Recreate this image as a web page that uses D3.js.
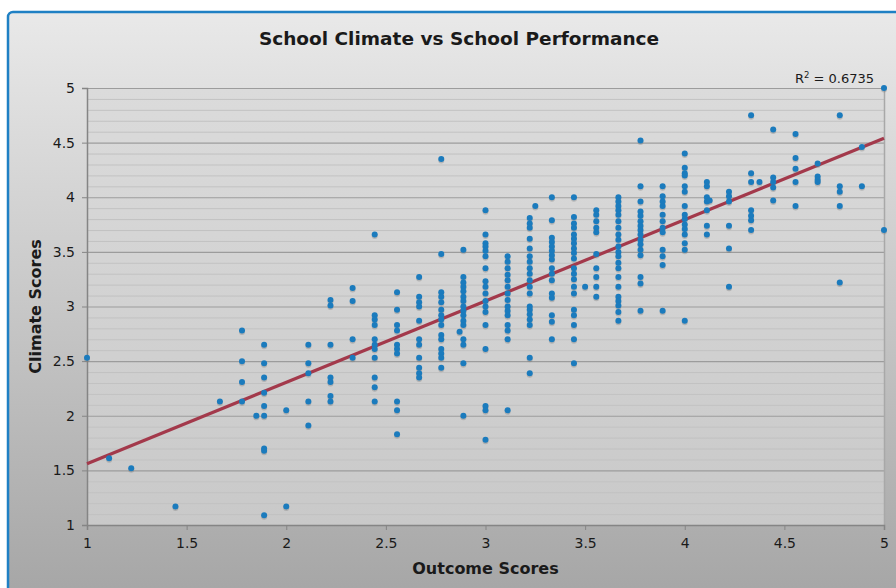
<!DOCTYPE html>
<html>
<head>
<meta charset="utf-8">
<script src="https://cdn.jsdelivr.net/npm/d3@7/dist/d3.min.js"></script>
<style>
  body { margin: 0; background: #fff; }
  svg text { font-family: "DejaVu Sans", Verdana, sans-serif; fill: #1a1a1a; }
</style>
</head>
<body>
<div id="chart"></div>
<script>
// outcome score levels (x) and the climate scores (y) read in each column
var outcomeScores = [1, 1.111, 1.222, 1.444, 1.667, 1.778, 1.889, 2, 2.111, 2.222, 2.333, 2.444,
  2.556, 2.667, 2.778, 2.889, 3, 3.111, 3.222, 3.333, 3.444, 3.556, 3.667, 3.778,
  3.889, 4, 4.111, 4.222, 4.333, 4.444, 4.556, 4.667, 4.778, 4.889, 5];
var climateScores = [
  [2.53],
  [1.61],
  [1.52],
  [1.17],
  [2.13],
  [2.78, 2.50, 2.31, 2.13],
  [2.65, 2.48, 2.35, 2.21, 2.09, 2.0, 1.70, 1.68, 1.09],
  [2.05, 1.17],
  [2.65, 2.48, 2.39, 2.13, 1.91],
  [3.06, 3.01, 2.65, 2.35, 2.31, 2.18, 2.13],
  [3.17, 3.05, 2.70, 2.53],
  [3.66, 2.92, 2.88, 2.83, 2.70, 2.65, 2.61, 2.53, 2.35, 2.26, 2.13],
  [3.13, 2.97, 2.83, 2.78, 2.65, 2.61, 2.57, 2.13, 2.05, 1.83],
  [3.27, 3.09, 3.04, 3.0, 2.87, 2.70, 2.65, 2.53, 2.44, 2.39, 2.35],
  [4.35, 3.48, 3.13, 3.09, 3.04, 2.97, 2.92, 2.88, 2.83, 2.74, 2.70, 2.61, 2.57, 2.53, 2.44],
  [3.52, 3.27, 3.22, 3.18, 3.14, 3.09, 3.05, 3.0, 2.96, 2.92, 2.87, 2.83, 2.70, 2.65, 2.48, 2.0],
  [3.88, 3.66, 3.58, 3.55, 3.51, 3.46, 3.35, 3.23, 3.18, 3.12, 3.05, 3.0, 2.95, 2.83, 2.61, 2.09, 2.05, 1.78],
  [3.46, 3.41, 3.35, 3.29, 3.24, 3.18, 3.12, 3.06, 3.0, 2.96, 2.92, 2.83, 2.78, 2.70, 2.05],
  [3.81, 3.76, 3.72, 3.62, 3.53, 3.46, 3.41, 3.35, 3.30, 3.24, 3.18, 3.12, 3.0, 2.97, 2.93, 2.88, 2.83, 2.53, 2.39],
  [4.0, 3.79, 3.63, 3.59, 3.55, 3.51, 3.47, 3.43, 3.35, 3.30, 3.24, 3.12, 3.08, 2.92, 2.86, 2.70],
  [4.0, 3.82, 3.76, 3.72, 3.66, 3.62, 3.58, 3.53, 3.49, 3.44, 3.35, 3.30, 3.25, 3.18, 3.12, 2.97, 2.92, 2.83, 2.70, 2.48],
  [3.88, 3.84, 3.78, 3.72, 3.68, 3.48, 3.35, 3.27, 3.18, 3.09],
  [4.0, 3.96, 3.92, 3.88, 3.84, 3.78, 3.72, 3.66, 3.61, 3.55, 3.50, 3.46, 3.40, 3.35, 3.27, 3.18, 3.09, 3.05, 3.01, 2.95, 2.87],
  [4.52, 4.10, 3.96, 3.87, 3.83, 3.78, 3.74, 3.70, 3.66, 3.61, 3.57, 3.52, 3.47, 3.27, 3.21, 2.96],
  [4.10, 4.01, 3.96, 3.92, 3.84, 3.78, 3.72, 3.68, 3.52, 3.46, 3.38, 2.96],
  [4.40, 4.27, 4.22, 4.20, 4.10, 4.05, 3.92, 3.84, 3.80, 3.75, 3.71, 3.66, 3.58, 3.52, 2.87],
  [4.14, 4.10, 4.0, 3.96, 3.88, 3.74, 3.66],
  [4.05, 4.01, 3.96, 3.74, 3.53, 3.18],
  [4.75, 4.22, 4.14, 3.88, 3.83, 3.79, 3.70],
  [4.62, 4.18, 4.14, 4.09, 3.97],
  [4.58, 4.36, 4.26, 4.14, 3.92],
  [4.31, 4.19, 4.16, 4.14],
  [4.75, 4.10, 4.05, 3.92, 3.22],
  [4.46, 4.10],
  [5.0, 3.70]
];
// a few points sit between the columns
var offGridOutcome = [1.85, 2.87, 3.25, 3.50, 4.125, 4.375];
var offGridClimate = [2.0, 2.77, 3.92, 3.18, 3.97, 4.14];

// linear trend line, end points
var trendOutcome = [1, 5];
var trendClimate = [1.56, 4.54];
var rSquared = "0.6735";

var xTicks = [1, 1.5, 2, 2.5, 3, 3.5, 4, 4.5, 5];
var yTicks = [1, 1.5, 2, 2.5, 3, 3.5, 4, 4.5, 5];

var W = 896, H = 588;
var margin = {top: 88, right: 12, bottom: 63, left: 87},
    width = W - margin.left - margin.right,
    height = H - margin.top - margin.bottom;

var svg = d3.select("#chart").append("svg")
    .attr("width", W)
    .attr("height", H);

var defs = svg.append("defs");
var bg = defs.append("linearGradient").attr("id", "bgGrad")
    .attr("x1", 0).attr("y1", 0).attr("x2", 0).attr("y2", 1);
bg.append("stop").attr("offset", "0%").attr("stop-color", "#e9e9e9");
bg.append("stop").attr("offset", "100%").attr("stop-color", "#a3a3a3");
var pg = defs.append("linearGradient").attr("id", "plotGrad")
    .attr("x1", 0).attr("y1", 0).attr("x2", 0).attr("y2", 1);
pg.append("stop").attr("offset", "0%").attr("stop-color", "#dbdbdb");
pg.append("stop").attr("offset", "100%").attr("stop-color", "#c9c9c9");

// outer frame
svg.append("rect")
    .attr("x", 8).attr("y", 12)
    .attr("width", W + 20).attr("height", H + 20)
    .attr("rx", 5)
    .attr("fill", "url(#bgGrad)")
    .attr("stroke", "#1f80c4")
    .attr("stroke-width", 2.5);

var g = svg.append("g")
    .attr("transform", "translate(" + margin.left + "," + margin.top + ")");

var x = d3.scaleLinear().domain([1, 5]).range([0, width]);
var y = d3.scaleLinear().domain([1, 5]).range([height, 0]);

g.append("rect")
    .attr("width", width).attr("height", height)
    .attr("fill", "url(#plotGrad)");

// minor grid every 0.1
var minor = d3.range(11, 50).map(function(v) { return v / 10; })
    .filter(function(v) { return Math.round(v * 10) % 5 !== 0; });
g.append("g").selectAll("line")
    .data(minor).enter().append("line")
    .attr("x1", 0).attr("x2", width)
    .attr("y1", function(d) { return y(d) + 0.5; })
    .attr("y2", function(d) { return y(d) + 0.5; })
    .attr("stroke", "#c2c2c2").attr("stroke-width", 1);

// major grid
g.append("g").selectAll("line")
    .data(yTicks.slice(1)).enter().append("line")
    .attr("x1", 0).attr("x2", width)
    .attr("y1", function(d) { return y(d) + 0.5; })
    .attr("y2", function(d) { return y(d) + 0.5; })
    .attr("stroke", "#9c9c9c").attr("stroke-width", 1.2);

// right border of plot
g.append("line")
    .attr("x1", width + 0.5).attr("x2", width + 0.5)
    .attr("y1", 0).attr("y2", height)
    .attr("stroke", "#a8a8a8").attr("stroke-width", 1.5);

// axes
var xAxis = g.append("g")
    .attr("transform", "translate(0," + height + ")")
    .call(d3.axisBottom(x).tickValues(xTicks).tickSize(5).tickPadding(8)
      .tickFormat(d3.format("")));
var yAxis = g.append("g")
    .call(d3.axisLeft(y).tickValues(yTicks).tickSize(5).tickPadding(7)
      .tickFormat(d3.format("")));
[xAxis, yAxis].forEach(function(a) {
  a.select(".domain").attr("stroke", "#858585").attr("stroke-width", 1.5);
  a.selectAll(".tick line").attr("stroke", "#858585");
  a.selectAll(".tick text")
    .attr("font-size", 14)
    .attr("font-family", "DejaVu Sans, Verdana, sans-serif")
    .attr("fill", "#1a1a1a");
});

// trend line
g.append("path")
    .datum(d3.zip(trendOutcome, trendClimate))
    .attr("fill", "none")
    .attr("stroke", "#a3394b")
    .attr("stroke-width", 3.2)
    .attr("d", d3.line()
      .x(function(d) { return x(d[0]); })
      .y(function(d) { return y(d[1]); }));

// points
var points = [];
outcomeScores.forEach(function(o, i) {
  climateScores[i].forEach(function(c) { points.push({o: o, c: c}); });
});
offGridOutcome.forEach(function(o, i) { points.push({o: o, c: offGridClimate[i]}); });

g.append("g").selectAll("circle")
    .data(points).enter().append("circle")
    .attr("cx", function(d) { return x(d.o); })
    .attr("cy", function(d) { return y(d.c) + 1.5; })
    .attr("r", 3)
    .attr("fill", "#777").attr("opacity", 0.35);
g.append("g").selectAll("circle")
    .data(points).enter().append("circle")
    .attr("cx", function(d) { return x(d.o); })
    .attr("cy", function(d) { return y(d.c); })
    .attr("r", 3)
    .attr("fill", "#1b7bbd");

// labels
svg.append("text")
    .attr("x", 459).attr("y", 45)
    .attr("text-anchor", "middle")
    .attr("font-size", 18.5).attr("font-weight", "bold")
    .text("School Climate vs School Performance");

var r2 = svg.append("text")
    .attr("x", 874).attr("y", 83)
    .attr("text-anchor", "end")
    .attr("font-size", 13);
r2.append("tspan").text("R");
r2.append("tspan").attr("font-size", 8.5).attr("dy", -5).text("2");
r2.append("tspan").attr("dy", 5).text(" = " + rSquared);

svg.append("text")
    .attr("x", margin.left + width / 2).attr("y", 574)
    .attr("text-anchor", "middle")
    .attr("font-size", 16).attr("font-weight", "bold")
    .text("Outcome Scores");

svg.append("text")
    .attr("transform", "translate(41," + (margin.top + height / 2) + ") rotate(-90)")
    .attr("text-anchor", "middle")
    .attr("font-size", 16).attr("font-weight", "bold")
    .text("Climate Scores");
</script>
</body>
</html>
